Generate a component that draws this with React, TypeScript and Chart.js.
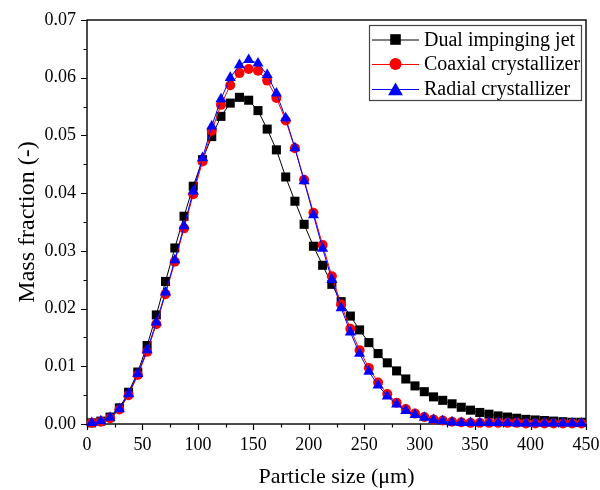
import React, { useEffect, useRef } from 'react';
import { Chart, registerables } from 'chart.js';

Chart.register(...registerables);

// Particle size (µm)
const sizes = [
  4.2, 12.5, 20.8, 29.2, 37.5, 45.8, 54.2, 62.5, 70.8, 79.2,
  87.5, 95.8, 104.2, 112.5, 120.8, 129.2, 137.5, 145.8, 154.2, 162.5,
  170.8, 179.2, 187.5, 195.8, 204.2, 212.5, 220.8, 229.2, 237.5, 245.8,
  254.2, 262.5, 270.8, 279.2, 287.5, 295.8, 304.2, 312.5, 320.8, 329.2,
  337.5, 345.8, 354.2, 362.5, 370.8, 379.2, 387.5, 395.8, 404.2, 412.5,
  420.8, 429.2, 437.5, 445.8,
];

const dualJet = [
  0.0002, 0.0005, 0.0012, 0.0028, 0.0055, 0.0090, 0.0136, 0.0189, 0.0247, 0.0305,
  0.0360, 0.0412, 0.0458, 0.0498, 0.0533, 0.0556, 0.0566, 0.0561, 0.0543, 0.0511,
  0.0475, 0.0428, 0.0386, 0.0346, 0.0308, 0.0275, 0.0242, 0.0212, 0.0187, 0.0163,
  0.0141, 0.0122, 0.0106, 0.0092, 0.0078, 0.0066, 0.0056, 0.0047, 0.0041, 0.0035,
  0.0029, 0.0024, 0.0020, 0.0017, 0.0014, 0.0012, 0.0010, 0.0008, 0.0007, 0.0006,
  0.0005, 0.0004, 0.0003, 0.0003,
];

const coaxial = [
  0.0002, 0.0004, 0.0010, 0.0025, 0.0050, 0.0085, 0.0125, 0.0173, 0.0225, 0.0281,
  0.0339, 0.0398, 0.0455, 0.0508, 0.0553, 0.0587, 0.0608, 0.0615, 0.0612, 0.0595,
  0.0565, 0.0526, 0.0478, 0.0423, 0.0366, 0.0310, 0.0256, 0.0207, 0.0165, 0.0128,
  0.0097, 0.0072, 0.0052, 0.0037, 0.0026, 0.0018, 0.0012, 0.0008, 0.0006, 0.0004,
  0.0003, 0.0002, 0.0002, 0.0002, 0.0002, 0.0002, 0.0002, 0.0001, 0.0001, 0.0001,
  0.0001, 0.0001, 0.0001, 0.0001,
];

const radial = [
  0.0002, 0.0005, 0.0011, 0.0026, 0.0052, 0.0087, 0.0128, 0.0176, 0.0228, 0.0284,
  0.0343, 0.0403, 0.0461, 0.0516, 0.0563, 0.0600, 0.0622, 0.0631, 0.0625, 0.0605,
  0.0573, 0.0530, 0.0478, 0.0421, 0.0362, 0.0304, 0.0250, 0.0201, 0.0159, 0.0122,
  0.0091, 0.0067, 0.0048, 0.0034, 0.0023, 0.0016, 0.0011, 0.0007, 0.0005, 0.0003,
  0.0002, 0.0002, 0.0002, 0.0002, 0.0002, 0.0002, 0.0001, 0.0001, 0.0001, 0.0001,
  0.0001, 0.0001, 0.0001, 0.0001,
];

const seriesNames = ['Dual impinging jet', 'Coaxial crystallizer', 'Radial crystallizer'];
const seriesColors = ['#000000', '#ff0000', '#0000ff'];
const xTitle = 'Particle size (\u03bcm)';
const yTitle = 'Mass fraction (-)';

const FONT = "'Liberation Serif', 'Times New Roman', serif";

const framePlugin = {
  id: 'frameTicks',
  beforeDatasetsDraw(chart: any) {
    const { ctx, chartArea: a, scales } = chart;
    const x = scales.x;
    const y = scales.y;
    ctx.save();
    ctx.strokeStyle = '#000';
    ctx.lineWidth = 1.2;
    ctx.beginPath();
    for (let i = 0; i <= 18; i++) {
      const px = Math.round(x.getPixelForValue(i * 25)) + 0.5;
      const len = i % 2 === 0 ? 6 : 3.5;
      ctx.moveTo(px, a.bottom);
      ctx.lineTo(px, a.bottom + len);
    }
    for (let i = 0; i <= 14; i++) {
      const py = Math.round(y.getPixelForValue(i * 0.005)) + 0.5;
      const len = i % 2 === 0 ? 6 : 3.5;
      ctx.moveTo(a.left, py);
      ctx.lineTo(a.left - len, py);
    }
    ctx.stroke();
    ctx.lineWidth = 1.5;
    ctx.strokeStyle = '#111';
    ctx.strokeRect(a.left, a.top, a.right - a.left, a.bottom - a.top);
    ctx.restore();
  },
};

function drawMarker(ctx: CanvasRenderingContext2D, style: string, cx: number, cy: number, r: number) {
  ctx.beginPath();
  if (style === 'rect') {
    const s = r * Math.SQRT1_2;
    ctx.rect(cx - s, cy - s, 2 * s, 2 * s);
  } else if (style === 'circle') {
    ctx.arc(cx, cy, r, 0, Math.PI * 2);
  } else {
    ctx.moveTo(cx, cy - r);
    ctx.lineTo(cx + r * 0.866, cy + r * 0.5);
    ctx.lineTo(cx - r * 0.866, cy + r * 0.5);
    ctx.closePath();
  }
  ctx.fill();
}

const legendPlugin = {
  id: 'customLegend',
  afterDraw(chart: any) {
    const { ctx } = chart;
    const left = 369;
    const top = 25;
    const w = 212;
    const h = 75;
    ctx.save();
    ctx.fillStyle = '#fff';
    ctx.fillRect(left, top, w, h);
    ctx.strokeStyle = '#444';
    ctx.lineWidth = 1.2;
    ctx.strokeRect(left + 0.5, top + 0.5, w, h);
    const styles = ['rect', 'circle', 'triangle'];
    const radii = [7.5, 6, 8.5];
    const rows = [39.5, 64, 89];
    ctx.font = `20px ${FONT}`;
    ctx.textBaseline = 'middle';
    for (let i = 0; i < 3; i++) {
      const cy = rows[i];
      ctx.strokeStyle = seriesColors[i];
      ctx.lineWidth = 1;
      ctx.beginPath();
      ctx.moveTo(372, cy + 0.5);
      ctx.lineTo(419, cy + 0.5);
      ctx.stroke();
      ctx.fillStyle = seriesColors[i];
      drawMarker(ctx, styles[i], 395.5, i === 2 ? cy + 2 : cy, radii[i]);
      ctx.fillStyle = '#000';
      ctx.fillText(seriesNames[i], 424, cy + 1);
    }
    ctx.restore();
  },
};

export default function App() {
  const canvasRef = useRef<HTMLCanvasElement | null>(null);

  useEffect(() => {
    document.body.style.margin = '0';
    const canvas = canvasRef.current;
    if (!canvas) return;
    const mk = (vals: number[]) => sizes.map((s, i) => ({ x: s, y: vals[i] }));
    const chart = new Chart(canvas, {
      type: 'line',
      data: {
        datasets: [
          {
            label: seriesNames[0],
            data: mk(dualJet),
            borderColor: seriesColors[0],
            backgroundColor: seriesColors[0],
            borderWidth: 1,
            pointStyle: 'rect',
            pointRadius: 6.4,
            pointBorderWidth: 0,
            tension: 0,
            clip: false as any,
            order: 2,
          },
          {
            label: seriesNames[1],
            data: mk(coaxial),
            borderColor: seriesColors[1],
            backgroundColor: seriesColors[1],
            borderWidth: 1,
            pointStyle: 'circle',
            pointRadius: 5,
            pointBorderWidth: 0,
            tension: 0,
            clip: false as any,
            order: 1,
          },
          {
            label: seriesNames[2],
            data: mk(radial),
            borderColor: seriesColors[2],
            backgroundColor: seriesColors[2],
            borderWidth: 1,
            pointStyle: 'triangle',
            pointRadius: 6.4,
            pointBorderWidth: 0,
            tension: 0,
            clip: false as any,
            order: 0,
          },
        ],
      },
      options: {
        responsive: false,
        animation: false,
        layout: { padding: { left: 0, right: 14, top: 20, bottom: 0 } },
        plugins: {
          legend: { display: false },
          tooltip: { enabled: false },
        },
        scales: {
          x: {
            type: 'linear',
            min: 0,
            max: 450,
            grid: { display: false, drawTicks: false, tickLength: 0 },
            border: { display: false },
            ticks: {
              stepSize: 50,
              color: '#000',
              font: { family: FONT, size: 18 },
              padding: 10,
              maxRotation: 0,
            },
            title: {
              display: true,
              text: xTitle,
              color: '#000',
              font: { family: FONT, size: 22 },
              padding: { top: 0, bottom: 0 },
            },
            afterFit: (s: any) => {
              s.height = 66;
              s.paddingLeft = 0;
              s.paddingRight = 0;
            },
          },
          y: {
            type: 'linear',
            min: 0,
            max: 0.07,
            grid: { display: false, drawTicks: false, tickLength: 0 },
            border: { display: false },
            ticks: {
              stepSize: 0.01,
              color: '#000',
              font: { family: FONT, size: 18 },
              padding: 11,
              callback: (v: any) => Number(v).toFixed(2),
            },
            title: {
              display: true,
              text: yTitle,
              color: '#000',
              font: { family: FONT, size: 24 },
              padding: { top: 13, bottom: 0 },
            },
            afterFit: (s: any) => {
              s.width = 87;
              s.paddingTop = 0;
              s.paddingBottom = 0;
            },
          },
        },
      },
      plugins: [framePlugin, legendPlugin],
    });
    return () => chart.destroy();
  }, []);

  return (
    <div style={{ width: 600, height: 490 }}>
      <canvas ref={canvasRef} width={600} height={490} />
    </div>
  );
}
